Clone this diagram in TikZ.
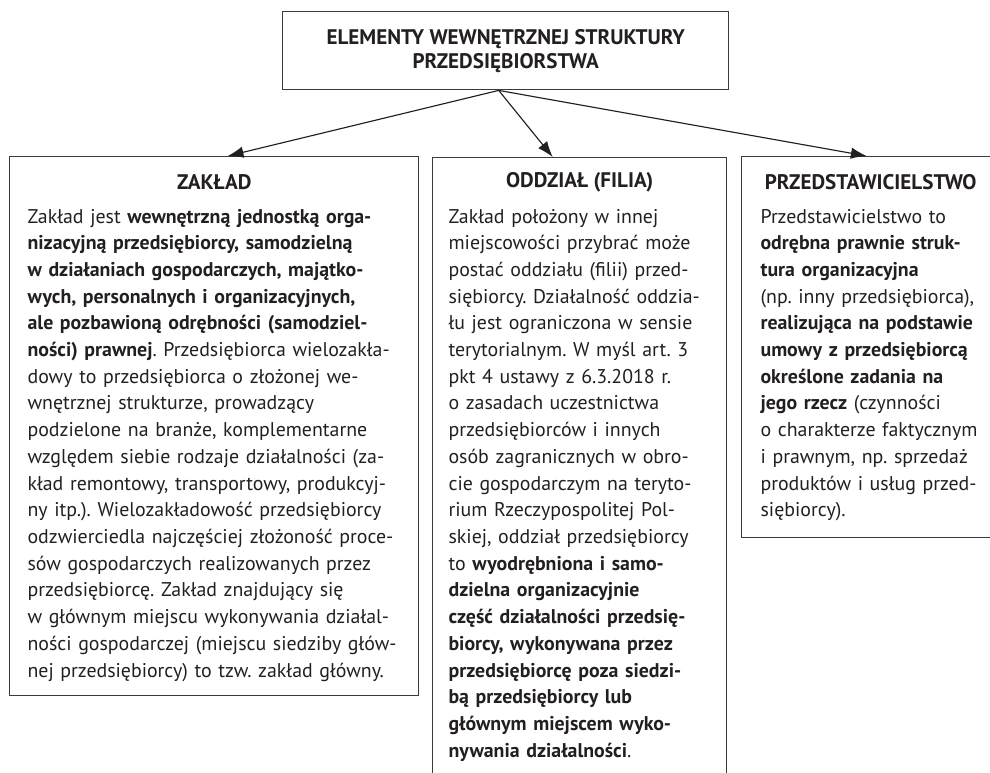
\documentclass[tikz,border=0pt]{standalone}
\usepackage{fontspec}
\setmainfont{PT Sans}
\usetikzlibrary{arrows.meta}
\usepackage{xcolor}
\definecolor{myblack}{HTML}{231F20}
\definecolor{mygray}{HTML}{3A3A3A}
\setlength{\parindent}{0pt}

\tikzset{
  framebox/.style={draw=mygray, line width=0.8pt, anchor=north west, inner sep=0pt},
  headtext/.style={font=\fontsize{12}{13.7}\selectfont\bfseries, text=myblack},
  bodytext/.style={font=\fontsize{11.3}{15.2}\selectfont\frenchspacing, text=myblack,
    align=left, anchor=base west, inner sep=0pt},
}

\begin{document}
\begin{tikzpicture}[>={Latex[length=9pt,width=6.5pt]}, line width=0.65pt]
      \useasboundingbox (0,0) rectangle (19.8,-15.44);

      % TITLE
      \node[framebox, headtext, anchor=north west, minimum width=8.92cm, minimum height=1.56cm,
        align=center] (title) at (5.64,-0.22)
        {ELEMENTY WEWNĘTRZNEJ STRUKTURY\\PRZEDSIĘBIORSTWA};

      % boxes
      \node[framebox, minimum width=8.18cm, minimum height=10.78cm] (zaklad) at (0.18,-3.12) {};
      \node[framebox, minimum width=5.88cm, minimum height=12.6cm] (oddzial) at (8.64,-3.14) {};
      \node[framebox, minimum width=5.16cm, minimum height=7.62cm] (przedst) at (14.82,-3.12) {};

      % arrows
      \coordinate (split) at ([xshift=-0.14cm]title.south);
      \draw[->, myblack] (split) -- ([xshift=0.27cm]zaklad.north);
      \draw[->, myblack] (split) -- ([xshift=-0.54cm]oddzial.north);
      \draw[->, myblack] (split) -- ([xshift=-0.08cm]przedst.north);

      % ZAKLAD
      \node[headtext] (zakladhead) at ([yshift=-0.52cm]zaklad.north) {ZAKŁAD};
      \node[bodytext, text width=8.8cm] (zakladtext) at (0.54,-4.46)
      {Zakład jest \bfseries wewnętrzną jednostką orga-\\
        nizacyjną przedsiębiorcy, samodzielną\\
        w działaniach gospodarczych, majątko-\\
        wych, personalnych i organizacyjnych,\\
        ale pozbawioną odrębności (samodziel-\\
        ności) prawnej\mdseries. Przedsiębiorca wielozakła-\\
        dowy to przedsiębiorca o złożonej we-\\
        wnętrznej strukturze, prowadzący\\
        podzielone na branże, komplementarne\\
        względem siebie rodzaje działalności (za-\\
        kład remontowy, transportowy, produkcyj-\\
        ny itp.). Wielozakładowość przedsiębiorcy\\
        odzwierciedla najczęściej złożoność proce-\\
        sów gospodarczych realizowanych przez\\
        przedsiębiorcę. Zakład znajdujący się\\
        w głównym miejscu wykonywania działal-\\
        ności gospodarczej (miejscu siedziby głów-\\
        nej przedsiębiorcy) to tzw. zakład główny.};

      % ODDZIAL
      \node[headtext] (oddzialhead) at ([yshift=-0.5cm]oddzial.north) {ODDZIAŁ (FILIA)};
      \node[bodytext, text width=6.4cm] (oddzialtext) at (8.96,-4.46)
      {Zakład położony w innej\\
        miejscowości przybrać może\\
        postać oddziału (filii) przed-\\
        siębiorcy. Działalność oddzia-\\
        łu jest ograniczona w sensie\\
        terytorialnym. W myśl art. 3\\
        pkt 4 ustawy z 6.3.2018 r.\\
        o zasadach uczestnictwa\\
        przedsiębiorców i innych\\
        osób zagranicznych w obro-\\
        cie gospodarczym na teryto-\\
        rium Rzeczypospolitej Pol-\\
        skiej, oddział przedsiębiorcy\\
        to \bfseries wyodrębniona i samo-\\
        dzielna organizacyjnie\\
        część działalności przedsię-\\
        biorcy, wykonywana przez\\
        przedsiębiorcę poza siedzi-\\
        bą przedsiębiorcy lub\\
        głównym miejscem wyko-\\
        nywania działalności\mdseries.};

      % PRZEDSTAWICIELSTWO
      \node[headtext] (przedsthead) at ([yshift=-0.52cm]przedst.north) {PRZEDSTAWICIELSTWO};
      \node[bodytext, text width=5.8cm] (przedsttext) at (15.2,-4.46)
      {Przedstawicielstwo to\\
        \bfseries odrębna prawnie struk-\\
        tura organizacyjna\\
        \mdseries (np. inny przedsiębiorca),\\
        \bfseries realizująca na podstawie\\
        umowy z przedsiębiorcą\\
        określone zadania na\\
        jego rzecz \mdseries(czynności\\
        o charakterze faktycznym\\
        i prawnym, np. sprzedaż\\
        produktów i usług przed-\\
        siębiorcy).};

    \end{tikzpicture}
\end{document}
